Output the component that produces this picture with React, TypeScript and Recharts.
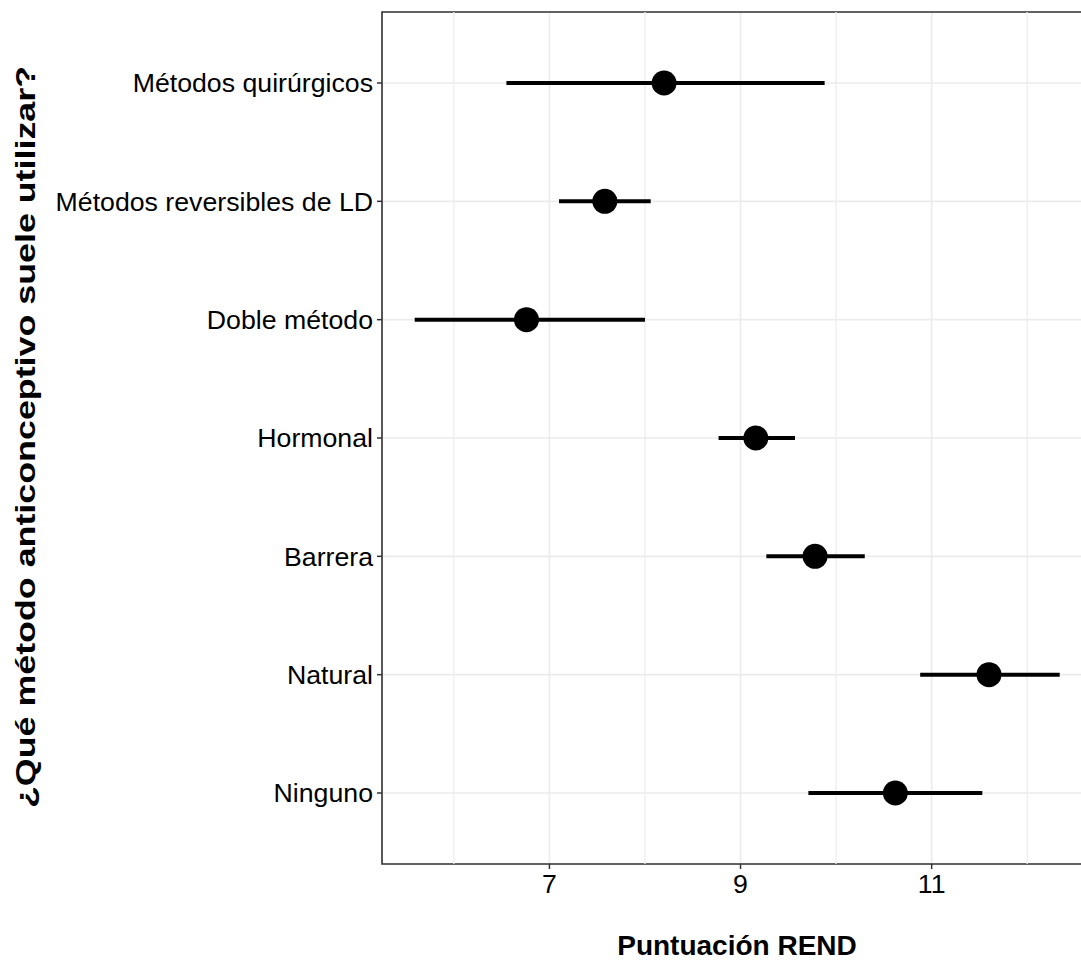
import { ScatterChart, Scatter, XAxis, YAxis, CartesianGrid, ErrorBar, ReferenceLine, ReferenceArea, Label } from 'recharts'

// categories bottom -> top
const metodos = [
  'Ninguno',
  'Natural',
  'Barrera',
  'Hormonal',
  'Doble método',
  'Métodos reversibles de LD',
  'Métodos quirúrgicos',
]
const media = [10.62, 11.6, 9.78, 9.16, 6.76, 7.58, 8.2]
const limInf = [9.71, 10.88, 9.27, 8.77, 5.59, 7.1, 6.55]
const limSup = [11.53, 12.34, 10.3, 9.57, 8.0, 8.06, 9.88]
const posiciones = [1, 2, 3, 4, 5, 6, 7]
const ticksX = [7, 9, 11]
const menoresX = [6, 8, 10, 12]

const X_DOMAIN: [number, number] = [5.248, 12.678]
const Y_DOMAIN: [number, number] = [0.4, 7.6]

const FONT = '"Liberation Sans", Arial, Helvetica, sans-serif'

const filas = metodos.map((m, i) => ({
  metodo: m,
  x: media[i],
  y: posiciones[i],
  err: [media[i] - limInf[i], limSup[i] - media[i]],
}))

function Punto(props: any) {
  const { cx, cy } = props
  if (cx == null || cy == null) return null
  return <circle cx={cx} cy={cy} r={12.5} fill="#000" />
}

export default function App() {
  return (
    <div style={{ position: 'absolute', left: 0, top: 0, width: 1081, height: 962, overflow: 'hidden', background: '#fff' }}>
      <ScatterChart width={1100} height={962} margin={{ top: 12, right: 8, left: 0, bottom: 0 }}>
        <CartesianGrid stroke="#EBEBEB" strokeWidth={1.6} />
        {menoresX.map((v) => (
          <ReferenceLine key={v} x={v} stroke="#EEEEEE" strokeWidth={1.3} ifOverflow="hidden" />
        ))}
        <XAxis
          type="number"
          dataKey="x"
          domain={X_DOMAIN}
          ticks={ticksX}
          allowDataOverflow
          axisLine={false}
          tickSize={5}
          tickMargin={5}
          tickLine={{ stroke: '#333', strokeWidth: 1.5 }}
          tick={{ fontSize: 26.7, fill: '#000', fontFamily: FONT }}
          height={98}
        >
          <Label
            content={() => (
              <text x={737} y={955} textAnchor="middle" fontFamily={FONT} fontSize={28} fontWeight="bold" fill="#000">
                Puntuación REND
              </text>
            )}
          />
        </XAxis>
        <YAxis
          type="number"
          dataKey="y"
          domain={Y_DOMAIN}
          ticks={posiciones}
          allowDataOverflow
          axisLine={false}
          width={382}
          tickSize={5}
          tickMargin={4}
          tickLine={{ stroke: '#333', strokeWidth: 1.5 }}
          tick={{ fontSize: 26.7, fill: '#000', fontFamily: FONT }}
          tickFormatter={(v: number) => metodos[v - 1] ?? ''}
        >
          <Label
            content={() => (
              <text
                transform="translate(35,437) rotate(-90)"
                x={0}
                y={0}
                textAnchor="middle"
                fontFamily={FONT}
                fontSize={27}
                fontWeight="bold"
                fill="#000"
                textLength={742}
                lengthAdjust="spacingAndGlyphs"
              >
                ¿Qué método anticonceptivo suele utilizar?
              </text>
            )}
          />
        </YAxis>
        <ReferenceArea
          x1={X_DOMAIN[0]}
          x2={X_DOMAIN[1]}
          y1={Y_DOMAIN[0]}
          y2={Y_DOMAIN[1]}
          fill="none"
          fillOpacity={0}
          stroke="#333"
          strokeWidth={1.6}
        />
        <Scatter data={filas} shape={<Punto />} isAnimationActive={false}>
          <ErrorBar dataKey="err" direction="x" width={0} stroke="#000" strokeWidth={4} isAnimationActive={false} />
        </Scatter>
      </ScatterChart>
    </div>
  )
}
